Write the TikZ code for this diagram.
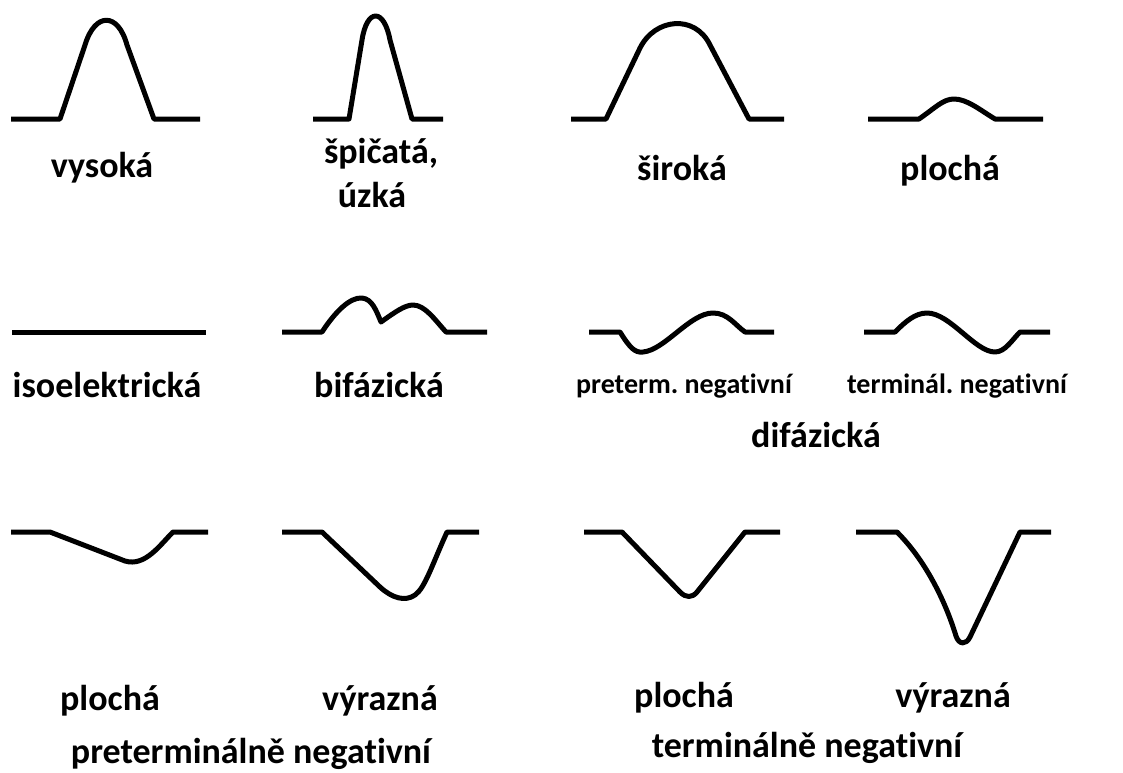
\documentclass[tikz,border=0pt]{standalone}
\usepackage{fontspec}
\setmainfont{Carlito}[Ligatures={NoCommon}]
\tikzset{
  wave/.style={line width=5pt, line join=round},
  lbl/.style={anchor=base, inner sep=0pt, font=\fontsize{36}{40}\selectfont\bfseries},
  sublbl/.style={anchor=base, inner sep=0pt, font=\fontsize{28}{30}\selectfont\bfseries}
}
\begin{document}
\begin{tikzpicture}[x=1pt,y=-1pt]
\useasboundingbox (0,0) rectangle (1123,772);
\draw[wave] (11,119) -- (60,119) -- (85,45) .. controls (95,12) and (118,12) .. (127,45) -- (154,119) -- (200,119);
\draw[wave] (313,119) -- (349,119) -- (362,40) .. controls (367,8) and (384,8) .. (390,40) -- (412,119) -- (443,119);
\draw[wave] (571,119) -- (606,119) -- (640,48) .. controls (655,18) and (695,14) .. (710,45) -- (749,119) -- (784,119);
\draw[wave] (868,119) -- (919,119) .. controls (935,108) and (943,99) .. (954,99) .. controls (967,99) and (980,110) .. (995,119) -- (1043,119);
\node[lbl] (vysoka) at (102,177) {vysoká};
\node[lbl] (spicata) at (381,163) {špičatá,};
\node[lbl] (uzka) at (372,207) {úzká};
\node[lbl] (siroka) at (682,180) {široká};
\node[lbl] (plocha) at (950,180) {plochá};
\draw[wave] (12,332) -- (206,332);
\draw[wave] (282,332) -- (322,332) .. controls (335,312) and (350,297) .. (362,298) .. controls (372,299) and (376,310) .. (381,322) .. controls (395,312) and (405,305) .. (413,305) .. controls (425,305) and (435,320) .. (446,332) -- (487,332);
\draw[wave] (589,332) -- (620,332) .. controls (630,348) and (635,353) .. (643,352) .. controls (665,350) and (690,313) .. (713,313) .. controls (728,313) and (735,325) .. (745,332) -- (774,332);
\draw[wave] (864,332) -- (895,332) .. controls (905,322) and (915,313) .. (927,313) .. controls (950,313) and (975,352) .. (995,352) .. controls (1005,352) and (1012,340) .. (1020,332) -- (1050,332);
\node[lbl] (isoel) at (107,397) {isoelektrická};
\node[lbl] (bifaz) at (379,397) {bifázická};
\node[sublbl] (preterm) at (684,393) {preterm.\ negativní};
\node[sublbl] (terminal) at (957,393) {terminál.\ negativní};
\node[lbl] (difaz) at (816,447) {difázická};
\draw[wave] (11,532) -- (50,532) -- (125,561) .. controls (145,567) and (160,545) .. (173,532) -- (208,532);
\draw[wave] (282,532) -- (322,532) -- (380,587) .. controls (392,598) and (405,602) .. (415,595) .. controls (425,588) and (432,565) .. (447,532) -- (479,532);
\draw[wave] (584,532) -- (622,532) -- (680,592) .. controls (686,598) and (692,598) .. (697,592) -- (745,532) -- (780,532);
\draw[wave] (856,532) -- (897,532) .. controls (925,560) and (945,600) .. (956,636) .. controls (959,645) and (966,645) .. (970,637) -- (1020,532) -- (1051,532);
\node[lbl] (plochaA) at (110,710) {plochá};
\node[lbl] (vyraznaA) at (380,710) {výrazná};
\node[lbl] (pretermneg) at (251,763) {preterminálně negativní};
\node[lbl] (plochaB) at (684,707) {plochá};
\node[lbl] (vyraznaB) at (953,707) {výrazná};
\node[lbl] (termneg) at (807,757) {terminálně negativní};
\end{tikzpicture}
\end{document}
